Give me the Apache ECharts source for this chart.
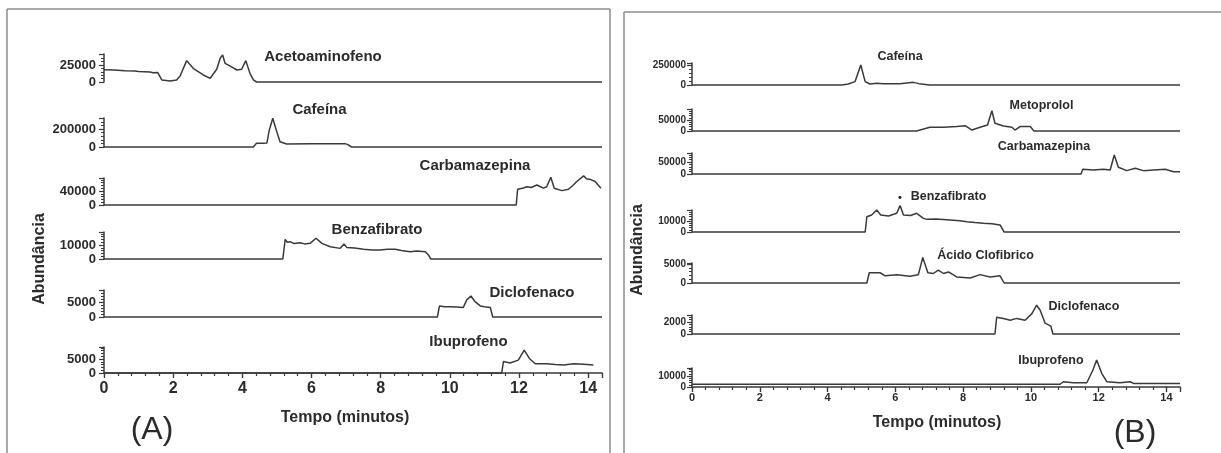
<!DOCTYPE html>
<html><head><meta charset="utf-8">
<script src="https://cdn.jsdelivr.net/npm/echarts@6/dist/echarts.min.js"></script>
<style>html,body{margin:0;padding:0;background:#fff}#c{width:1221px;height:453px}</style>
</head><body><div id="c"></div>
<script>
// ---------- DATA ----------
const xTickValues = [0, 2, 4, 6, 8, 10, 12, 14];
const xMaxMinutes = 14.4;

// Panel A
const namesA = ['Acetoaminofeno', 'Cafeína', 'Carbamazepina', 'Benzafibrato', 'Diclofenaco', 'Ibuprofeno'];
const yLabelA = [25000, 200000, 40000, 10000, 5000, 5000];
const yMaxA = [41000, 322000, 77000, 19300, 9000, 9300];

const a1T = [0, 0.05, 0.3, 0.6, 0.9, 0.95, 1.0, 1.33, 1.42, 1.55, 1.6, 1.67, 1.91, 2.1, 2.2, 2.39, 2.58, 2.87, 3.07, 3.26, 3.36, 3.43, 3.5, 3.64, 3.84, 3.98, 4.1, 4.22, 4.32, 4.41, 14.4];
const a1V = [18000, 20000, 17500, 16500, 16000, 17000, 15500, 14500, 13700, 14000, 16000, 3000, 1500, 3000, 8800, 31300, 20000, 10300, 5400, 18600, 34800, 39700, 27400, 23500, 17600, 18600, 31300, 12700, 3000, 0, 0];

const a2T = [0, 4.32, 4.41, 4.6, 4.71, 4.78, 4.88, 4.98, 5.09, 5.28, 6.0, 6.97, 7.05, 7.1, 7.16, 14.4];
const a2V = [0, 0, 41000, 41000, 44000, 189000, 319000, 189000, 59000, 33000, 37000, 37000, 26000, 37000, 0, 0];

const a3T = [0, 11.92, 11.96, 12.1, 12.23, 12.35, 12.52, 12.62, 12.71, 12.8, 12.92, 13.02, 13.24, 13.43, 13.55, 13.67, 13.87, 13.95, 14.06, 14.2, 14.37];
const a3V = [0, 0, 45000, 48000, 52000, 50000, 57000, 52000, 48000, 52000, 79000, 48000, 41000, 45000, 55000, 67000, 83000, 75000, 73000, 67000, 48000];

const a4T = [0, 5.17, 5.24, 5.3, 5.38, 5.5, 5.67, 5.8, 5.96, 6.13, 6.3, 6.54, 6.83, 6.94, 7.02, 7.25, 7.5, 7.75, 7.98, 8.2, 8.42, 8.6, 8.85, 9.05, 9.29, 9.38, 9.45, 14.4];
const a4V = [0, 0, 14000, 12000, 12400, 11000, 11600, 10800, 11200, 14800, 11200, 8800, 7600, 10700, 8300, 7800, 6900, 6500, 6400, 7000, 6900, 6000, 5200, 5800, 5200, 2900, 0, 0];

const a5T = [0, 9.64, 9.7, 9.85, 10.01, 10.2, 10.39, 10.49, 10.61, 10.73, 10.88, 11.0, 11.17, 11.24, 14.4];
const a5V = [0, 0, 3700, 3400, 3400, 3300, 3200, 5700, 7000, 5100, 3700, 3400, 3200, 0, 0];

const a6T = [0, 11.5, 11.55, 11.74, 11.98, 12.15, 12.3, 12.47, 12.8, 13.05, 13.29, 13.58, 13.87, 14.15];
const a6V = [0, 0, 4100, 3600, 4600, 8200, 5200, 3300, 3300, 3000, 2900, 3300, 3100, 2900];

// Panel B
const namesB = ['Cafeína', 'Metoprolol', 'Carbamazepina', 'Benzafibrato', 'Ácido Clofibrico', 'Diclofenaco', 'Ibuprofeno'];
const yLabelB = [250000, 50000, 50000, 10000, 5000, 2000, 10000];
const yMaxB = [275000, 100000, 87500, 20000, 5263, 3167, 17300];

const b1T = [0, 4.42, 4.47, 4.61, 4.81, 4.98, 5.11, 5.25, 5.45, 5.65, 6.14, 6.53, 6.7, 7.02, 14.4];
const b1V = [0, 0, 21000, 12000, 42000, 250000, 42000, 12000, 21000, 17000, 17000, 33000, 17000, 0, 0];

const b2T = [0, 6.63, 6.73, 7.02, 7.42, 7.81, 8.06, 8.26, 8.5, 8.72, 8.85, 8.94, 9.19, 9.44, 9.53, 9.68, 9.98, 10.09, 14.4];
const b2V = [0, 0, 4500, 17000, 17000, 20000, 24000, 4500, 17000, 27000, 92000, 35000, 23000, 17000, 4500, 20000, 20000, 0, 0];

const b3T = [0, 11.48, 11.53, 11.84, 12.14, 12.34, 12.46, 12.58, 12.83, 13.08, 13.32, 13.62, 13.96, 14.21, 14.4];
const b3V = [0, 0, 19600, 16700, 19600, 16700, 79000, 28000, 14000, 24000, 14000, 16700, 19600, 9700, 9700];

const b4T = [0, 5.11, 5.16, 5.3, 5.45, 5.57, 5.8, 6.04, 6.14, 6.24, 6.45, 6.63, 6.83, 6.93, 7.2, 7.62, 7.9, 8.11, 8.35, 8.6, 8.85, 9.09, 9.21, 14.4];
const b4V = [0, 0, 13900, 15500, 20000, 15500, 14500, 17000, 24000, 15500, 15000, 17000, 12400, 11500, 11800, 10900, 10200, 9400, 8600, 7900, 7400, 6400, 0, 0];

const b5T = [0, 5.16, 5.23, 5.55, 5.7, 6.04, 6.43, 6.68, 6.81, 6.96, 7.12, 7.27, 7.42, 7.57, 7.81, 8.21, 8.5, 8.8, 9.09, 9.21, 14.4];
const b5V = [0, 0, 2700, 2700, 1900, 2200, 1800, 2200, 6700, 2700, 2500, 3400, 2500, 2900, 1600, 1300, 2200, 1600, 1900, 0, 0];

const b6T = [0, 8.94, 8.99, 9.19, 9.39, 9.58, 9.83, 10.03, 10.17, 10.27, 10.42, 10.59, 10.65, 14.4];
const b6V = [0, 0, 2800, 2600, 2300, 2600, 2300, 3400, 4800, 4000, 1800, 1300, 0, 0];

const b7T = [0, 10.86, 10.96, 11.25, 11.65, 11.83, 11.94, 12.09, 12.24, 12.63, 12.93, 13.03, 14.4];
const b7V = [2500, 2500, 4800, 3900, 3900, 15500, 24500, 12500, 4800, 3900, 4800, 3300, 3300];

const tracesA = [[a1T, a1V], [a2T, a2V], [a3T, a3V], [a4T, a4V], [a5T, a5V], [a6T, a6V]];
const tracesB = [[b1T, b1V], [b2T, b2V], [b3T, b3V], [b4T, b4V], [b5T, b5V], [b6T, b6V], [b7T, b7V]];

// ---------- LAYOUT ----------
const FONT = '"Liberation Sans", Arial, Helvetica, sans-serif';
const INK = '#2b2b2b';
const LINE = '#3a3a3a';

const panelA = { left: 104, width: 498, tops: [54, 118, 178, 232, 290, 347], bottoms: [82, 147, 205, 259, 317, 373],
  yFont: 13, xFont: 16, xMargin: 8, yMargin: 8 };
const panelB = { left: 692, width: 488, tops: [63, 109, 153, 210, 263, 315, 368], bottoms: [85, 131, 174, 232, 283, 334, 387],
  yFont: 10, xFont: 11, xMargin: 5, yMargin: 6 };

const labelPosA = [[323, 57], [319.5, 110], [475, 166], [377, 230], [532, 293], [468.5, 342]];
const labelPosB = [[900, 57], [1041.5, 106], [1044, 147], [948.5, 197], [985.5, 256], [1084, 307], [1051, 361]];

const grids = [], xAxes = [], yAxes = [], series = [], graphics = [];

function addPanel(p, names, yLabels, yMaxs, traces) {
  const n = names.length;
  for (let i = 0; i < n; i++) {
    const gi = grids.length;
    const isBottom = i === n - 1;
    grids.push({ left: p.left, width: p.width, top: p.tops[i], height: p.bottoms[i] - p.tops[i], containLabel: false });
    xAxes.push({
      gridIndex: gi, type: 'value', min: 0, max: xMaxMinutes, interval: 2,
      show: isBottom,
      axisLine: { show: true, onZero: false, lineStyle: { color: LINE, width: 1.6 } },
      axisTick: { show: true, length: 5, lineStyle: { color: LINE, width: 1.4 } },
      minorTick: { show: true, splitNumber: 5, length: 3, lineStyle: { color: LINE, width: 1.2 } },
      splitLine: { show: false },
      axisLabel: { fontFamily: FONT, fontSize: p.xFont, fontWeight: 'bold', color: INK, margin: p.xMargin,
        formatter: v => (xTickValues.indexOf(v) >= 0 ? String(v) : '') }
    });
    const lab = yLabels[i];
    yAxes.push({
      gridIndex: gi, type: 'value', min: 0, max: yMaxs[i], interval: lab,
      axisLine: { show: true, lineStyle: { color: LINE, width: 1.5 } },
      axisTick: { show: true, length: 5, lineStyle: { color: LINE, width: 1.2 } },
      minorTick: { show: true, splitNumber: 5, length: 3, lineStyle: { color: LINE, width: 1 } },
      splitLine: { show: false },
      axisLabel: { fontFamily: FONT, fontSize: p.yFont, fontWeight: 'bold', color: INK, margin: p.yMargin,
        hideOverlap: false, showMinLabel: true,
        formatter: v => (v === 0 || v === lab ? String(v) : '') }
    });
    const [T, V] = traces[i];
    series.push({
      type: 'line', xAxisIndex: gi, yAxisIndex: gi, data: T.map((t, k) => [t, V[k]]),
      showSymbol: false, symbol: 'none', clip: false, animation: false,
      lineStyle: { color: LINE, width: 1.5 }
    });
  }
}
addPanel(panelA, namesA, yLabelA, yMaxA, tracesA);
addPanel(panelB, namesB, yLabelB, yMaxB, tracesB);

function txt(x, y, text, font, rot) {
  graphics.push({ type: 'text', x: x, y: y, rotation: rot || 0, silent: true,
    style: { text: text, font: font, fill: INK, textAlign: 'center', textVerticalAlign: 'middle', verticalAlign: 'middle' } });
}
namesA.forEach((n, i) => txt(labelPosA[i][0], labelPosA[i][1], n, 'bold 15px ' + FONT));
namesB.forEach((n, i) => txt(labelPosB[i][0], labelPosB[i][1], n, 'bold 12.5px ' + FONT));
txt(900, 198, '•', 'bold 11px ' + FONT);
txt(345, 418, 'Tempo (minutos)', 'bold 16px ' + FONT);
txt(937, 423, 'Tempo (minutos)', 'bold 16px ' + FONT);
txt(40, 259, 'Abundância', 'bold 16px ' + FONT, Math.PI / 2);
txt(638, 250, 'Abundância', 'bold 16px ' + FONT, Math.PI / 2);
txt(152, 430, '(A)', '32px ' + FONT);
txt(1135, 433, '(B)', '32px ' + FONT);

function ln(x1, y1, x2, y2) {
  graphics.push({ type: 'line', silent: true, shape: { x1, y1, x2, y2 }, style: { stroke: '#8c8c8c', lineWidth: 1.5 } });
}
ln(7, 9, 610, 9); ln(7, 9, 7, 453); ln(610, 9, 610, 453);
ln(624, 12, 1221, 12); ln(624, 12, 624, 453);

const chart = echarts.init(document.getElementById('c'), null, { renderer: 'canvas' });
chart.setOption({
  backgroundColor: '#ffffff',
  animation: false,
  grid: grids, xAxis: xAxes, yAxis: yAxes, series: series,
  graphic: graphics
});
</script></body></html>
